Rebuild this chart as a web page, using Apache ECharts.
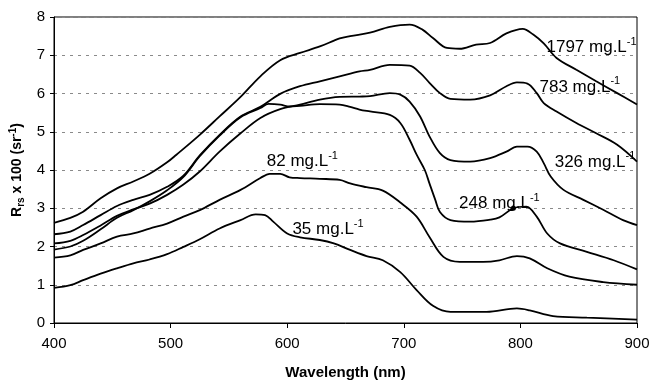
<!DOCTYPE html>
<html>
<head>
<meta charset="utf-8">
<script src="https://cdn.jsdelivr.net/npm/echarts@6/dist/echarts.min.js"></script>
<style>
  html, body { margin: 0; padding: 0; background: #fff; }
  #chart { width: 650px; height: 380px; }
</style>
</head>
<body>
<div id="chart"></div>
<script>
// Remote-sensing reflectance spectra for six sediment concentrations
const xTicks = [400, 500, 600, 700, 800, 900];
const yTicks = [0, 1, 2, 3, 4, 5, 6, 7, 8];

const wl1797 = [400,414,425,440,454,468,482,497,505,525,542,560,577,594,611,628,645,654,671,688,705,716,725,737,748,762,774,788,802,811,820,831,848,865,883,900];
const rs1797 = [2.62,2.75,2.91,3.26,3.52,3.70,3.90,4.20,4.40,4.92,5.40,5.91,6.45,6.87,7.06,7.23,7.44,7.50,7.59,7.74,7.80,7.67,7.45,7.19,7.17,7.28,7.32,7.57,7.69,7.54,7.31,6.93,6.62,6.32,6.01,5.71];

const wl783 = [400,414,425,440,454,468,482,497,511,525,542,560,577,594,611,628,645,662,671,688,705,714,722,731,740,757,774,788,797,806,814,820,831,848,865,883,900];
const rs783 = [2.32,2.39,2.56,2.82,3.06,3.22,3.35,3.56,3.85,4.38,4.92,5.40,5.65,5.99,6.19,6.32,6.45,6.58,6.62,6.75,6.73,6.54,6.28,6.01,5.86,5.84,5.95,6.19,6.29,6.26,6.01,5.75,5.53,5.23,4.96,4.66,4.22];

const wl326 = [400,414,425,440,454,468,482,497,511,525,542,560,577,594,611,628,645,662,671,688,697,705,714,722,731,740,757,774,788,797,806,814,820,826,837,854,871,888,900];
const rs326 = [2.08,2.15,2.30,2.55,2.80,2.97,3.12,3.35,3.62,3.96,4.48,4.96,5.36,5.59,5.71,5.84,5.91,5.92,5.93,6.01,5.97,5.79,5.40,4.88,4.44,4.26,4.22,4.31,4.48,4.61,4.61,4.48,4.18,3.83,3.48,3.22,2.96,2.69,2.56];

const wl248 = [400,414,425,440,454,468,482,497,511,525,542,560,577,584,594,602,611,628,645,654,662,671,688,697,705,711,718,722,727,731,740,757,774,782,794,805,814,823,834,857,880,900];
const rs248 = [1.92,2.00,2.15,2.45,2.75,2.95,3.18,3.47,3.82,4.36,4.90,5.38,5.62,5.73,5.71,5.66,5.68,5.72,5.71,5.65,5.58,5.53,5.44,5.23,4.79,4.40,4.00,3.65,3.22,2.90,2.69,2.65,2.70,2.76,3.00,3.04,2.78,2.34,2.08,1.86,1.64,1.40];

const wl82 = [400,414,425,440,454,468,482,497,511,525,542,560,577,585,594,602,611,628,645,654,668,682,697,711,722,734,748,768,782,797,808,823,842,871,900];
const rs82 = [1.71,1.77,1.91,2.08,2.26,2.34,2.47,2.60,2.78,2.95,3.22,3.48,3.79,3.90,3.90,3.81,3.79,3.77,3.74,3.65,3.55,3.46,3.15,2.78,2.25,1.73,1.60,1.60,1.64,1.75,1.69,1.43,1.21,1.07,1.00];

const wl35 = [400,414,425,440,454,468,482,497,511,525,542,560,573,581,588,600,611,628,640,654,668,682,697,711,725,740,771,797,808,828,857,900];
const rs35 = [0.92,0.99,1.12,1.29,1.43,1.56,1.66,1.80,1.99,2.19,2.47,2.69,2.84,2.82,2.65,2.34,2.24,2.17,2.08,1.91,1.75,1.64,1.33,0.86,0.45,0.29,0.29,0.38,0.33,0.18,0.14,0.09];

const concentrations = ['1797', '783', '326', '248', '82', '35'];
const dot248 = [794, 3.0];

const FONT = '"Liberation Sans", Arial, sans-serif';

// where each concentration tag sits, in data units
const tagAt = {
  '1797': [861, 7.24],
  '783': [851, 6.21],
  '326': [864, 4.24],
  '248': [782, 3.16],
  '82': [613, 4.26],
  '35': [635, 2.48]
};

const tagRich = {
  t: { fontFamily: FONT, fontSize: 17, color: '#000', lineHeight: 20, verticalAlign: 'bottom' },
  s: { fontFamily: FONT, fontSize: 11, color: '#000', lineHeight: 11, verticalAlign: 'top' }
};

function curve(name, wl, rs, extra) {
  const pts = [{
    coord: tagAt[name],
    symbolSize: 0,
    label: {
      show: true,
      position: 'inside',
      formatter: '{t|' + name + ' mg.L}{s|-1}',
      rich: tagRich
    }
  }];
  if (extra) pts.push(extra);
  return {
    type: 'line',
    name: name,
    data: wl.map((x, i) => [x, rs[i]]),
    showSymbol: false,
    smooth: 0.35,
    lineStyle: { color: '#000', width: 1.8 },
    markPoint: { symbol: 'circle', data: pts, silent: true }
  };
}

const chart = echarts.init(document.getElementById('chart'), null, { renderer: 'canvas' });

chart.setOption({
  animation: false,
  backgroundColor: '#fff',
  grid: {
    left: 54, right: 13, top: 17, bottom: 57,
    containLabel: false,
    outerBoundsMode: 'none',
    show: true, borderColor: '#000', borderWidth: 1, backgroundColor: 'transparent'
  },
  xAxis: {
    type: 'value',
    min: xTicks[0], max: xTicks[xTicks.length - 1], interval: 100,
    name: 'Wavelength (nm)',
    nameLocation: 'middle',
    nameGap: 42,
    nameTextStyle: { fontFamily: FONT, fontSize: 15, fontWeight: 'bold', color: '#000' },
    axisLine: { show: true, lineStyle: { color: '#000', width: 1 } },
    axisTick: { show: true, length: 5, lineStyle: { color: '#000' } },
    axisLabel: { fontFamily: FONT, fontSize: 15, color: '#000', margin: 13 },
    splitLine: { show: false }
  },
  yAxis: {
    type: 'value',
    min: yTicks[0], max: yTicks[yTicks.length - 1], interval: 1,
    name: '{b|R}{sub|rs}{b| x 100 (sr}{sup|-1}{b|)}',
    nameLocation: 'middle',
    nameRotate: 90,
    nameGap: 28,
    nameTextStyle: {
      rich: {
        b: { fontFamily: FONT, fontSize: 14, fontWeight: 'bold', color: '#000', lineHeight: 18, verticalAlign: 'middle' },
        sub: { fontFamily: FONT, fontSize: 10, fontWeight: 'bold', color: '#000', lineHeight: 10, verticalAlign: 'bottom' },
        sup: { fontFamily: FONT, fontSize: 10, fontWeight: 'bold', color: '#000', lineHeight: 10, verticalAlign: 'top' }
      }
    },
    axisLine: { show: true, lineStyle: { color: '#000', width: 1 } },
    axisTick: { show: true, length: 4, lineStyle: { color: '#000' } },
    axisLabel: { fontFamily: FONT, fontSize: 15, color: '#000', margin: 9 },
    splitLine: { show: true, lineStyle: { color: '#8a8a8a', type: [3, 5], width: 1 } }
  },
  series: [
    curve('1797', wl1797, rs1797),
    curve('783', wl783, rs783),
    curve('326', wl326, rs326),
    curve('248', wl248, rs248, { coord: dot248, symbolSize: 5, itemStyle: { color: '#000' }, label: { show: false } }),
    curve('82', wl82, rs82),
    curve('35', wl35, rs35)
  ]
});
</script>
</body>
</html>
